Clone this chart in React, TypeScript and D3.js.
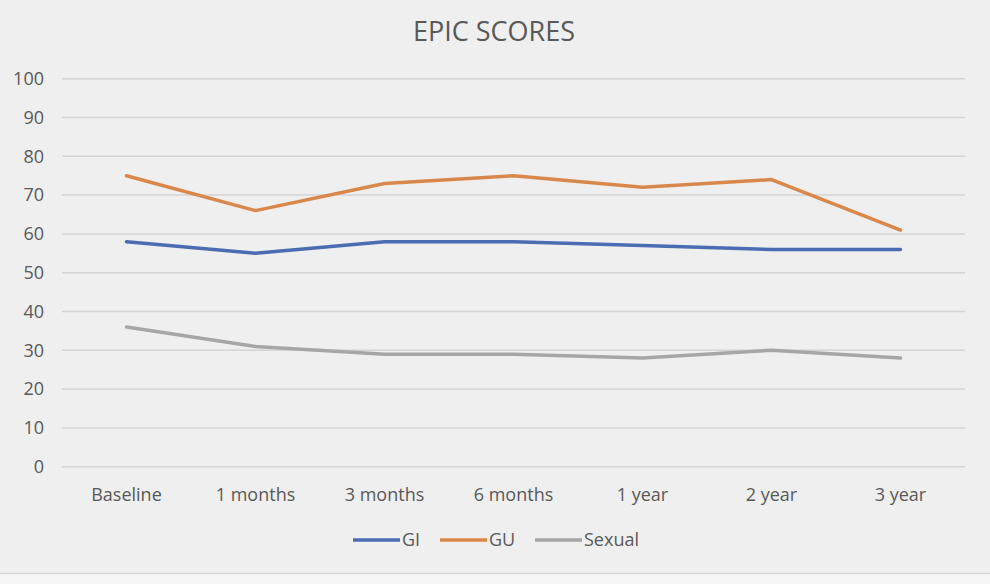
import React from "react";
import * as d3 from "d3";

const categories = ["Baseline", "1 months", "3 months", "6 months", "1 year", "2 year", "3 year"];
const giValues = [58, 55, 58, 58, 57, 56, 56];
const guValues = [75, 66, 73, 75, 72, 74, 61];
const sexualValues = [36, 31, 29, 29, 28, 30, 28];
const yTicks = [0, 10, 20, 30, 40, 50, 60, 70, 80, 90, 100];
const seriesNames = ["GI", "GU", "Sexual"];

const W = 990;
const H = 584;
const FONT = "'Open Sans', Lato, sans-serif";

export default function App() {
  const x = d3.scalePoint<string>().domain(categories).range([62, 965]).padding(0.5);
  const y = d3.scaleLinear().domain([0, 100]).range([466.7, 78.7]);
  const line = d3
    .line<number>()
    .x((_, i) => x(categories[i]) as number)
    .y((d) => y(d));
  const series = [
    { name: seriesNames[0], values: giValues, color: "#4a6cb3" },
    { name: seriesNames[1], values: guValues, color: "#d9884c" },
    { name: seriesNames[2], values: sexualValues, color: "#a6a6a6" },
  ];
  const legendX = [353, 440, 535];
  return (
    <svg
      width={W}
      height={H}
      style={{ position: "absolute", left: 0, top: 0, background: "#efefef" }}
      fontFamily={FONT}
    >
      <rect x={0} y={574} width={W} height={H - 574} fill="#f7f7f7" />
      <line x1={0} x2={W} y1={573.5} y2={573.5} stroke="#d6d6d6" strokeWidth={1.5} />
      <text x={494} y={41} textAnchor="middle" fontSize={27} fill="#595959">
        EPIC SCORES
      </text>
      {yTicks.map((t) => (
        <g key={t}>
          <line x1={62} x2={965} y1={y(t)} y2={y(t)} stroke="#d4d4d4" strokeWidth={1.5} />
          <text x={44} y={y(t)} dy="0.35em" textAnchor="end" fontSize={18} fill="#595959">
            {t}
          </text>
        </g>
      ))}
      {categories.map((c) => (
        <text key={c} x={x(c) as number} y={501} textAnchor="middle" fontSize={18} fill="#595959">
          {c}
        </text>
      ))}
      {series.map((s) => (
        <path
          key={s.name}
          d={line(s.values) || ""}
          fill="none"
          stroke={s.color}
          strokeWidth={3.5}
          strokeLinejoin="round"
          strokeLinecap="round"
        />
      ))}
      {series.map((s, i) => (
        <g key={s.name}>
          <line
            x1={legendX[i]}
            x2={legendX[i] + 47}
            y1={540}
            y2={540}
            stroke={s.color}
            strokeWidth={3.5}
          />
          <text x={legendX[i] + 49} y={540} dy="0.35em" fontSize={18} fill="#595959">
            {s.name}
          </text>
        </g>
      ))}
    </svg>
  );
}
